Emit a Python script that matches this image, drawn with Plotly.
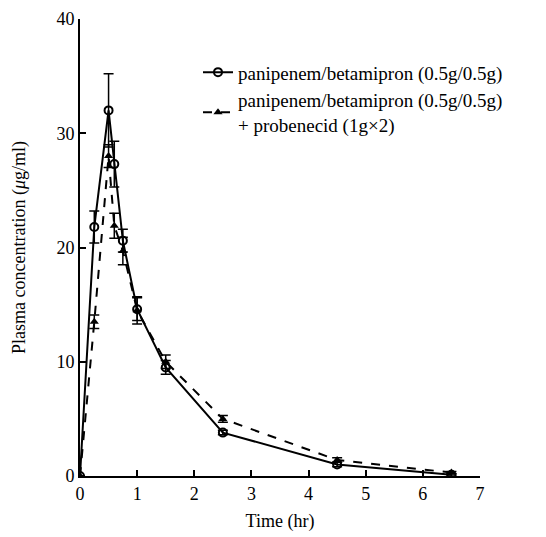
import plotly.graph_objects as go

time_hr = [0, 0.25, 0.5, 0.6, 0.75, 1.0, 1.5, 2.5, 4.5, 6.5]
conc_pb = [0, 21.8, 32.0, 27.3, 20.6, 14.6, 9.5, 3.8, 1.0, 0.1]
err_pb = [0, 1.4, 3.2, 2.0, 1.0, 1.0, 0.6, 0.2, 0.2, 0.1]
conc_pb_prob = [0, 13.5, 28.0, 21.9, 19.7, 14.5, 10.0, 5.0, 1.4, 0.3]
err_pb_prob = [0, 0.6, 1.0, 1.1, 1.2, 1.2, 0.6, 0.3, 0.2, 0.1]

name1 = "panipenem/betamipron (0.5g/0.5g)"
name2 = "panipenem/betamipron (0.5g/0.5g)<br>+ probenecid (1g×2)"

font_family = "Liberation Serif, Times New Roman, serif"

fig = go.Figure()
fig.add_trace(go.Scatter(
    x=time_hr, y=conc_pb, name=name1, mode="lines+markers",
    line=dict(color="black", width=2),
    marker=dict(symbol="circle-open", size=8, color="black", line=dict(width=2)),
    error_y=dict(type="data", array=err_pb, color="black", thickness=1.5, width=5),
))
fig.add_trace(go.Scatter(
    x=time_hr, y=conc_pb_prob, name=name2, mode="lines+markers",
    line=dict(color="black", width=2, dash="dash"),
    marker=dict(symbol="triangle-up", size=8, color="black"),
    error_y=dict(type="data", array=err_pb_prob, color="black", thickness=1.5, width=5),
))

fig.update_layout(
    width=538, height=529,
    margin=dict(l=72, r=66, t=11, b=61),
    paper_bgcolor="white", plot_bgcolor="white",
    font=dict(family=font_family, size=18, color="black"),
    showlegend=True,
    legend=dict(x=0.295, y=0.925, xanchor="left", yanchor="top",
                bgcolor="rgba(0,0,0,0)", font=dict(size=19),
                itemwidth=30, tracegroupgap=0),
    xaxis=dict(range=[0, 7], tickvals=[0, 1, 2, 3, 4, 5, 6, 7],
               showgrid=False, zeroline=False, showline=True, automargin=False,
               linecolor="black", linewidth=2, ticks="inside", ticklen=6,
               tickwidth=2, tickcolor="black", tickfont=dict(size=18),
               ticklabeloverflow="allow",
               title=dict(text="Time (hr)", standoff=12, font=dict(size=18))),
    yaxis=dict(range=[0, 40], tickvals=[0, 10, 20, 30, 40],
               showgrid=False, zeroline=False, showline=True, automargin=False,
               linecolor="black", linewidth=2, ticks="inside", ticklen=6,
               tickwidth=2, tickcolor="black", tickfont=dict(size=18),
               ticklabeloverflow="allow",
               title=dict(text="Plasma concentration (<i>μ</i>g/ml)", standoff=26,
                          font=dict(size=18))),
)

fig.write_html("out.html")
